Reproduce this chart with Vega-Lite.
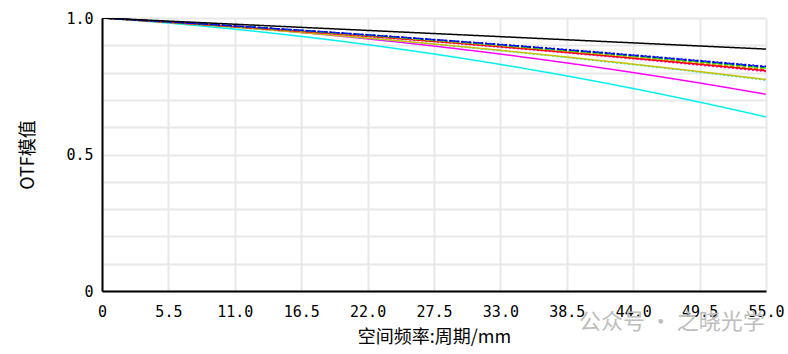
{
  "$schema": "https://vega.github.io/schema/vega-lite/v6.json",
  "width": 664,
  "height": 273,
  "autosize": {"type": "none"},
  "padding": {"left": 102, "top": 18, "right": 22, "bottom": 63},
  "background": "white",
  "config": {
    "view": {"stroke": null},
    "axis": {
      "grid": true,
      "gridColor": "#e8e8e8",
      "gridWidth": 2,
      "domainColor": "black",
      "domainWidth": 2,
      "ticks": false,
      "labelOverlap": false,
      "labelFlush": false,
      "labelFont": "DejaVu Sans Mono",
      "labelFontSize": 15,
      "labelColor": "black",
      "titleFont": "Noto Sans CJK SC",
      "titleFontSize": 18,
      "titleFontWeight": "normal",
      "titleColor": "black"
    }
  },
  "datasets": {
    "otf": [
      {"f": 0, "DL": 1, "BT": 1, "BS": 1, "GT": 1, "GS": 1, "YS": 1, "RS": 1, "RT": 1, "MS": 1, "YT": 1, "CS": 1, "MT": 1, "CT": 1},
      {"f": 5.5, "DL": 0.9886, "BT": 0.9859, "BS": 0.9858, "GT": 0.9856, "GS": 0.9855, "YS": 0.9852, "RS": 0.985, "RT": 0.9847, "MS": 0.9844, "YT": 0.9837, "CS": 0.9836, "MT": 0.9853, "CT": 0.9815},
      {"f": 11, "DL": 0.9772, "BT": 0.971, "BS": 0.9707, "GT": 0.9704, "GS": 0.97, "YS": 0.9695, "RS": 0.969, "RT": 0.9684, "MS": 0.9679, "YT": 0.9661, "CS": 0.9658, "MT": 0.9677, "CT": 0.959},
      {"f": 16.5, "DL": 0.9658, "BT": 0.9553, "BS": 0.9548, "GT": 0.9543, "GS": 0.9538, "YS": 0.9531, "RS": 0.9523, "RT": 0.9513, "MS": 0.9505, "YT": 0.947, "CS": 0.9465, "MT": 0.9471, "CT": 0.9326},
      {"f": 22, "DL": 0.9545, "BT": 0.9388, "BS": 0.9381, "GT": 0.9375, "GS": 0.9368, "YS": 0.9358, "RS": 0.9347, "RT": 0.9334, "MS": 0.9323, "YT": 0.9266, "CS": 0.9259, "MT": 0.9236, "CT": 0.9023},
      {"f": 27.5, "DL": 0.9431, "BT": 0.9215, "BS": 0.9206, "GT": 0.9198, "GS": 0.9189, "YS": 0.9176, "RS": 0.9162, "RT": 0.9145, "MS": 0.9132, "YT": 0.9048, "CS": 0.9038, "MT": 0.8972, "CT": 0.8681},
      {"f": 33, "DL": 0.9317, "BT": 0.9034, "BS": 0.9023, "GT": 0.9013, "GS": 0.9002, "YS": 0.8986, "RS": 0.8969, "RT": 0.8948, "MS": 0.8931, "YT": 0.8816, "CS": 0.8804, "MT": 0.8678, "CT": 0.8299},
      {"f": 38.5, "DL": 0.9203, "BT": 0.8845, "BS": 0.8832, "GT": 0.882, "GS": 0.8806, "YS": 0.8787, "RS": 0.8766, "RT": 0.8741, "MS": 0.8722, "YT": 0.857, "CS": 0.8555, "MT": 0.8354, "CT": 0.7878},
      {"f": 44, "DL": 0.9089, "BT": 0.8648, "BS": 0.8632, "GT": 0.8618, "GS": 0.8603, "YS": 0.858, "RS": 0.8556, "RT": 0.8526, "MS": 0.8504, "YT": 0.831, "CS": 0.8293, "MT": 0.8001, "CT": 0.7417},
      {"f": 49.5, "DL": 0.8975, "BT": 0.8442, "BS": 0.8424, "GT": 0.8408, "GS": 0.839, "YS": 0.8364, "RS": 0.8336, "RT": 0.8302, "MS": 0.8276, "YT": 0.8036, "CS": 0.8016, "MT": 0.7619, "CT": 0.6917},
      {"f": 55, "DL": 0.8862, "BT": 0.823, "BS": 0.8209, "GT": 0.8191, "GS": 0.817, "YS": 0.8141, "RS": 0.8109, "RT": 0.807, "MS": 0.8041, "YT": 0.7748, "CS": 0.7725, "MT": 0.7207, "CT": 0.6378}
    ],
    "mark": [
      {"f": 47.2, "v": -0.112, "t": "公众号 · 之晓光学"}
    ]
  },
  "encoding": {
    "x": {
      "field": "f", "type": "quantitative",
      "scale": {"domain": [0, 55], "nice": false, "zero": false},
      "axis": {
        "values": [0, 5.5, 11, 16.5, 22, 27.5, 33, 38.5, 44, 49.5, 55],
        "labelExpr": "datum.value == 0 ? '0' : format(datum.value, '.1f')",
        "labelPadding": 13,
        "title": "空间频率:周期/mm",
        "titlePadding": 9
      }
    },
    "y": {
      "field": "v", "type": "quantitative",
      "scale": {"domain": [0, 1], "nice": false},
      "axis": {
        "values": [0, 0.1, 0.2, 0.3, 0.4, 0.5, 0.6, 0.7, 0.8, 0.9, 1],
        "labelExpr": "datum.value == 0 ? '0' : (abs(datum.value - 0.5) < 0.001 ? '0.5' : (datum.value == 1 ? '1.0' : ''))",
        "labelPadding": 9,
        "title": "OTF模值",
        "titlePadding": 28
      }
    }
  },
  "layer": [
    {
      "data": {"name": "otf"},
      "transform": [
        {"fold": ["CT", "MT", "CS", "YT", "MS", "RT", "RS", "YS", "GS", "GT", "BS", "BT", "DL"], "as": ["s", "v"]}
      ],
      "mark": {"type": "line", "strokeWidth": 1.5, "interpolate": "monotone", "clip": true},
      "encoding": {
        "detail": {"field": "s"},
        "order": {"field": "f", "type": "quantitative"},
        "color": {
          "field": "s", "type": "nominal", "legend": null,
          "scale": {
            "domain": ["DL", "BT", "BS", "GT", "GS", "YS", "RS", "RT", "MS", "YT", "CS", "MT", "CT"],
            "range": ["#000000", "#0000ff", "#0000ff", "#00c000", "#00e000", "#c8c800", "#ff0000", "#ff0000", "#ff00ff", "#c8c000", "#00e8e8", "#ff00ff", "#00f0f0"]
          }
        },
        "strokeDash": {
          "field": "s", "type": "nominal", "legend": null,
          "scale": {
            "domain": ["DL", "BT", "BS", "GT", "GS", "YS", "RS", "RT", "MS", "YT", "CS", "MT", "CT"],
            "range": [[1, 0], [2, 2], [4, 2], [4, 2], [2, 2], [4, 2], [4, 2], [1, 0], [2, 2], [1, 0], [2, 2], [1, 0], [1, 0]]
          }
        }
      }
    },
    {
      "data": {"name": "mark"},
      "mark": {"type": "text", "font": "Noto Sans CJK SC", "fontSize": 22, "color": "#bdbdbd", "align": "center", "baseline": "middle"},
      "encoding": {
        "text": {"field": "t"}
      }
    }
  ]
}
